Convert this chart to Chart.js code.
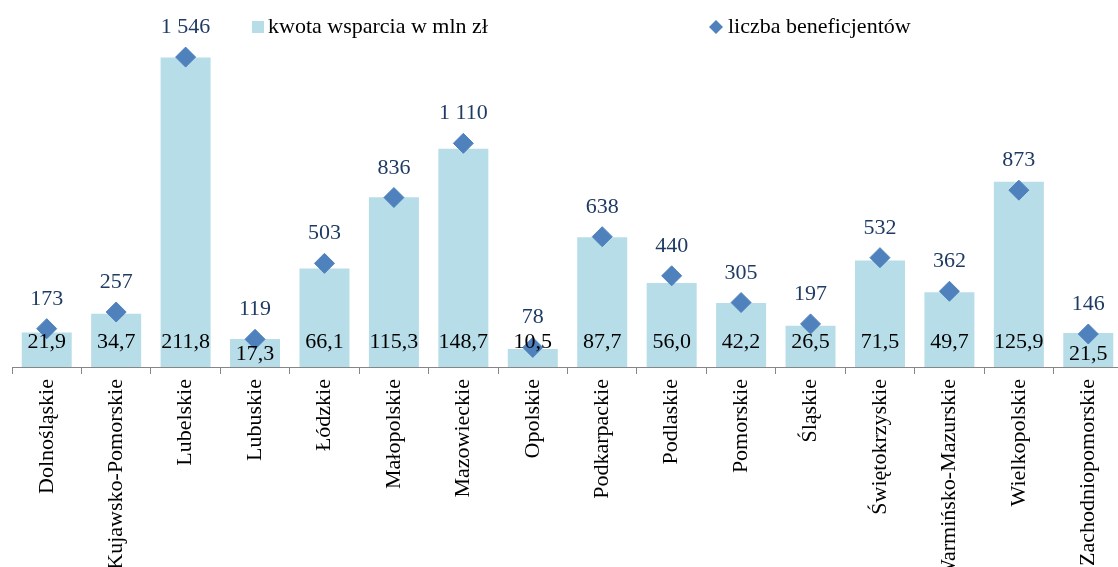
<!DOCTYPE html>
<html lang="pl">
<head>
<meta charset="utf-8">
<title>Kwota wsparcia i liczba beneficjentów wg województw</title>
<script src="https://cdn.jsdelivr.net/npm/chart.js@4.4.1/dist/chart.umd.min.js"></script>
<style>
	html, body { margin: 0; padding: 0; background: #fff; overflow: hidden; }
	/* canvas troche szerszy niz okno: ostatnia kategoria jest przycieta jak w oryginale */
	#wrap { position: relative; width: 1134px; height: 567px; }
</style>
</head>
<body>
<div id="wrap"><canvas id="Chart"></canvas></div>
<script>
/* dane z wykresu */
const wojewodztwa = [
	'Dolnośląskie', 'Kujawsko-Pomorskie', 'Lubelskie', 'Lubuskie', 'Łódzkie',
	'Małopolskie', 'Mazowieckie', 'Opolskie', 'Podkarpackie', 'Podlaskie',
	'Pomorskie', 'Śląskie', 'Świętokrzyskie', 'Warmińsko-Mazurskie',
	'Wielkopolskie', 'Zachodniopomorskie'
]
const kwotaWsparcia = [21.9, 34.7, 211.8, 17.3, 66.1, 115.3, 148.7, 10.5, 87.7, 56.0, 42.2, 26.5, 71.5, 49.7, 125.9, 21.5]
const liczbaBeneficjentow = [173, 257, 1546, 119, 503, 836, 1110, 78, 638, 440, 305, 197, 532, 362, 873, 146]

const seriaKwota = 'kwota wsparcia w mln zł'
const seriaLiczba = 'liczba beneficjentów'

const font = '"Liberation Serif", "Times New Roman", serif'
const barColor = '#B7DDE8'
const pointColor = '#4F81BD'
const axisColor = '#868686'

// zakresy osi (dol lekko ponizej zera, jak w oryginale)
const yMin = -2
const yMax = 243.9
const y2Min = -21
const y2Max = 1779

const fmtKwota = (v) => v.toFixed(1).replace('.', ',')
const fmtLiczba = (v) => String(v).replace(/\B(?=(\d{3})+(?!\d))/g, ' ')

/* etykiety wartosci + legenda rysowane na canvasie */
const labelNudge = { 3: 12, 15: 12 }
const valueLabels = {
	id: 'valueLabels',
	afterDatasetsDraw(chart) {
		const ctx = chart.ctx
		ctx.save()
		ctx.font = `22px ${font}`
		ctx.textAlign = 'center'
		ctx.textBaseline = 'alphabetic'
		const base = chart.scales.y.getPixelForValue(0)

		chart.getDatasetMeta(1).data.forEach((pt, i) => {
			ctx.fillStyle = '#1F3B64'
			ctx.fillText(fmtLiczba(liczbaBeneficjentow[i]), pt.x, pt.y - 24)
		})
		chart.getDatasetMeta(0).data.forEach((bar, i) => {
			ctx.fillStyle = '#000'
			ctx.fillText(fmtKwota(kwotaWsparcia[i]), bar.x, base - 16.5 + (labelNudge[i] || 0))
		})
		ctx.restore()
	},
	afterDraw(chart) {
		const ctx = chart.ctx
		ctx.save()
		ctx.font = `22px ${font}`
		ctx.textBaseline = 'middle'
		ctx.fillStyle = barColor
		ctx.fillRect(252, 21, 12, 12)
		ctx.fillStyle = '#000'
		ctx.fillText(seriaKwota, 268, 27)

		ctx.fillStyle = pointColor
		ctx.beginPath()
		ctx.moveTo(716, 20)
		ctx.lineTo(723, 27)
		ctx.lineTo(716, 34)
		ctx.lineTo(709, 27)
		ctx.closePath()
		ctx.fill()
		ctx.fillStyle = '#000'
		ctx.fillText(seriaLiczba, 728, 27)
		ctx.restore()
	}
}

new Chart('Chart', {
	type: 'bar',
	data: {
		labels: wojewodztwa,
		datasets: [
			{
				label: seriaKwota,
				data: kwotaWsparcia,
				backgroundColor: barColor,
				categoryPercentage: 0.72,
				barPercentage: 1,
				base: yMin,
				yAxisID: 'y',
				order: 1
			},
			{
				type: 'line',
				label: seriaLiczba,
				data: liczbaBeneficjentow,
				showLine: false,
				pointStyle: 'rectRot',
				pointRadius: 10,
				pointHoverRadius: 10,
				pointBackgroundColor: pointColor,
				pointBorderColor: pointColor,
				pointBorderWidth: 1,
				yAxisID: 'y2',
				order: 0
			}
		]
	},
	plugins: [valueLabels],
	options: {
		responsive: true,
		maintainAspectRatio: false,
		animation: false,
		layout: { padding: { left: 12, right: 0, top: 5, bottom: 0 } },
		plugins: {
			legend: { display: false },
			tooltip: { enabled: false }
		},
		scales: {
			x: {
				offset: true,
				grid: {
					offset: true,
					drawOnChartArea: false,
					drawTicks: true,
					tickLength: 7,
					color: axisColor
				},
				border: { color: axisColor, width: 1 },
				ticks: {
					autoSkip: false,
					minRotation: 90,
					maxRotation: 90,
					padding: 5,
					color: '#000',
					font: { family: font, size: 22 }
				},
				afterFit: (scale) => { scale.height = 200 }
			},
			y: { display: false, min: yMin, max: yMax },
			y2: { display: false, position: 'right', min: y2Min, max: y2Max, grid: { drawOnChartArea: false } }
		}
	}
})
</script>
</body>
</html>
